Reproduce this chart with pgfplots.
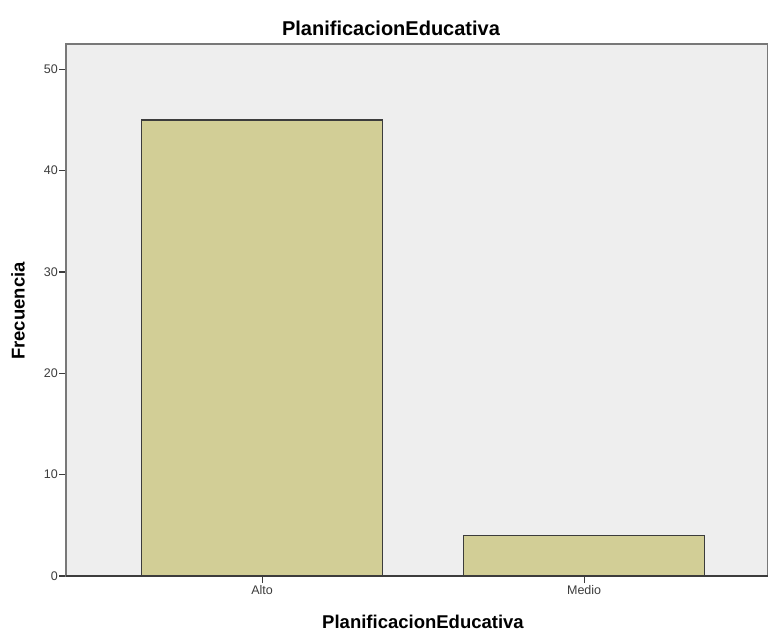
\documentclass[border=0pt]{standalone}
\usepackage{fontspec}
\setmainfont{Liberation Sans}
\usepackage{pgfplots}
\pgfplotsset{compat=1.18}
\definecolor{bgc}{RGB}{238,238,238}
\definecolor{barc}{RGB}{210,206,150}
\definecolor{edgec}{RGB}{60,60,60}
\definecolor{framec}{RGB}{120,120,120}
\definecolor{tickc}{RGB}{60,60,60}
\begin{document}
\begin{tikzpicture}
\path[use as bounding box] (0pt,0pt) rectangle (768pt,633pt);
\begin{axis}[
  at={(66pt,57pt)}, anchor=south west,
  scale only axis, width=702pt, height=532pt,
  xmin=-0.609, xmax=1.571, ymin=0, ymax=52.5,
  axis background/.style={fill=bgc},
  axis line style={draw=framec, line width=1.2pt},
  ybar, bar width=0.75,
  xtick={0,1}, xticklabels={Alto,Medio},
  ytick={0,10,20,30,40,50},
  tick align=outside, major tick length=7pt,
  xtick pos=bottom, ytick pos=left,
  tick style={draw=tickc, line width=1.1pt},
  /pgf/number format/assume math mode=true,
  ticklabel style={font=\fontsize{12.5}{13}\selectfont, text=tickc},
  yticklabel style={inner sep=1pt},
  xticklabel style={inner sep=1pt, yshift=-1pt},
  clip=false,
]
\addplot[fill=barc, draw=edgec, line width=1.2pt] coordinates {(0,45) (1,4)};
\draw[edgec, line width=1.4pt] (rel axis cs:0,0) -- (rel axis cs:1,0);
\end{axis}
\node[font=\bfseries\fontsize{20}{20}\selectfont] at (391pt,605pt) {PlanificacionEducativa};
\node[font=\bfseries\fontsize{18.5}{19}\selectfont] at (423pt,11pt) {PlanificacionEducativa};
\node[font=\bfseries\fontsize{18.5}{19}\selectfont, rotate=90] at (18pt,322pt) {Frecuencia};
\end{tikzpicture}
\end{document}
